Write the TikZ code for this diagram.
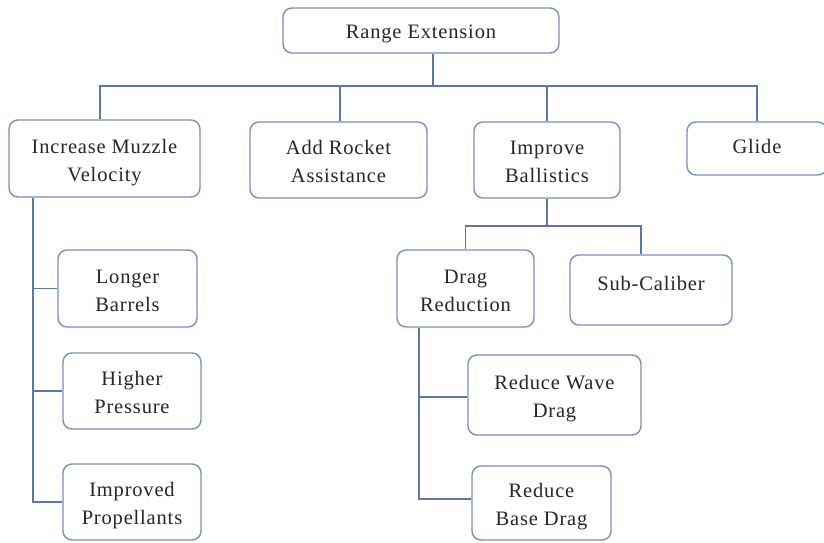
\documentclass[tikz,border=0pt]{standalone}
\usepackage{fontspec}
\setmainfont[LetterSpace=4]{Liberation Serif}
\newcommand\twoline[2]{\begin{tabular}{@{}c@{}}\rule{0pt}{25.6pt}#1\\#2\end{tabular}}
\begin{document}
\begin{tikzpicture}[x=1pt,y=-1pt,
  box/.style={draw=boxc, line width=1.4pt, rounded corners=9pt, fill=white,
    inner sep=0pt, text=black!85,
    font=\rmfamily\fontsize{20.5}{28}\selectfont},
  conn/.style={draw=linec, line width=1.7pt}]
\definecolor{boxc}{RGB}{124,144,186}
\definecolor{linec}{RGB}{98,118,166}
\useasboundingbox (0,0) rectangle (824,543);
\fill[white] (0,0) rectangle (824,543);
% nodes
\node[box, minimum width=276, minimum height=45, text height=15pt, text depth=0pt] (RE) at (421,30.5) {Range Extension};
\node[box, minimum width=191, minimum height=77] (IMV) at (104.5,158.5) {\twoline{Increase Muzzle}{Velocity}};
\node[box, minimum width=177, minimum height=76] (ARA) at (338.5,160) {\twoline{Add Rocket}{Assistance}};
\node[box, minimum width=146, minimum height=76] (IB) at (547,160) {\twoline{Improve}{Ballistics}};
\node[box, minimum width=140, minimum height=53, text height=14pt, text depth=5pt] (GL) at (757,148.5) {Glide};
\node[box, minimum width=139, minimum height=77] (LB) at (127.5,288.5) {\twoline{Longer}{Barrels}};
\node[box, minimum width=138, minimum height=76] (HP) at (132,391) {\twoline{Higher}{Pressure}};
\node[box, minimum width=138, minimum height=76] (IP) at (132,502) {\twoline{Improved}{Propellants}};
\node[box, minimum width=137, minimum height=77] (DR) at (465.5,288.5) {\twoline{Drag}{Reduction}};
\node[box, minimum width=162, minimum height=70, text height=10pt, text depth=10pt] (SC) at (651,290) {Sub-Caliber};
\node[box, minimum width=173, minimum height=80] (RWD) at (554.5,395) {\twoline{Reduce Wave}{Drag}};
\node[box, minimum width=139, minimum height=74] (RBD) at (541.5,503) {\twoline{Reduce}{Base Drag}};
% bus coordinates
\coordinate (reb) at ([xshift=12]RE.south);
\coordinate (bus1) at (433,86);
\coordinate (ibb) at (IB.south);
\coordinate (bus2) at (547,226);
\coordinate (rwdw) at ([yshift=-2]RWD.west);
\coordinate (rbdw) at ([yshift=4]RBD.west);
% top level connectors
\draw[conn] (reb) -- (bus1);
\draw[conn] ([xshift=-4.5]IMV.north) |- (bus1) -| (GL.north);
\draw[conn] ([xshift=1.5]ARA.north) -- ([xshift=1.5]ARA.north |- bus1);
\draw[conn] (IB.north) -- (IB.north |- bus1);
% left column
\coordinate (imvb) at ([xshift=-71.5]IMV.south);
\draw[conn] (imvb) |- (IP.west);
\draw[conn] (imvb |- LB.west) -- (LB.west);
\draw[conn] (imvb |- HP.west) -- (HP.west);
% ballistics
\draw[conn] (ibb) -- (bus2);
\draw[conn] (DR.north) |- (bus2) -| ([xshift=-10]SC.north);
% drag reduction
\coordinate (drb) at ([xshift=-46.5]DR.south);
\draw[conn] (drb) |- (rbdw);
\draw[conn] (drb |- rwdw) -- (rwdw);
\end{tikzpicture}
\end{document}
